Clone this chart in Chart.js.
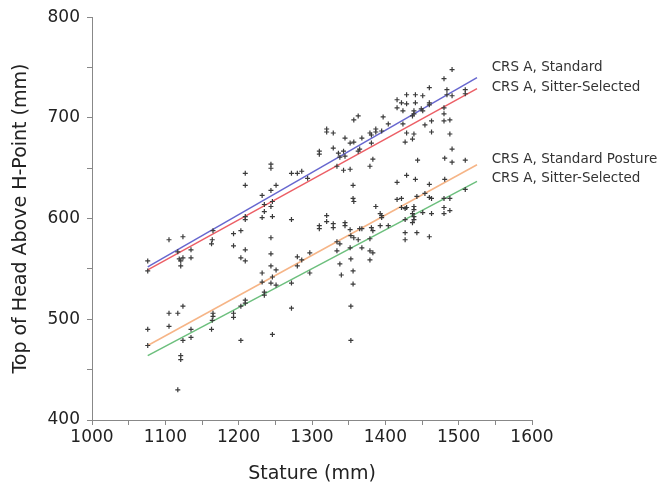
<!DOCTYPE html>
<html>
<head>
<meta charset="utf-8">
<script src="https://cdn.jsdelivr.net/npm/chart.js@4.4.1/dist/chart.umd.min.js"></script>
<style>
  html, body { margin: 0; padding: 0; background: #fff; }
</style>
</head>
<body>
<canvas id="chart" width="666" height="487"></canvas>
<script>
// Estatura (mm) y altura de la cabeza sobre el punto H (mm)
const stature = [
  1105, 1124, 1135, 1076, 1076, 1117, 1119, 1124, 1121, 1121, 1135, 1124, 1105, 1117, 1105, 1076,
  1135, 1135, 1124, 1076, 1121, 1121, 1117,
  1244, 1244, 1209, 1272, 1280, 1286, 1294, 1310, 1310, 1209, 1251, 1244, 1232, 1246, 1235, 1244,
  1235, 1232, 1246, 1209, 1209, 1272, 1310, 1310, 1165, 1193, 1203, 1164, 1163, 1193, 1209, 1244,
  1244, 1203, 1209, 1244, 1280, 1286, 1297, 1280, 1232, 1251, 1246, 1232, 1244, 1251, 1272, 1297,
  1235, 1235, 1209, 1209, 1203, 1272, 1165, 1165, 1164, 1193, 1193, 1163, 1203, 1246,
  1416, 1416, 1363, 1357, 1397, 1320, 1320, 1329, 1404, 1387, 1387, 1379, 1381, 1395, 1345, 1368,
  1352, 1357, 1381, 1329, 1343, 1365, 1363, 1336, 1338, 1345, 1383, 1334, 1343, 1352, 1379, 1356,
  1416, 1356, 1357, 1416, 1387, 1393, 1395, 1395, 1320, 1320, 1329, 1329, 1345, 1345, 1352, 1365,
  1381, 1404, 1368, 1383, 1393, 1353, 1357, 1363, 1379, 1334, 1338, 1352, 1334, 1368, 1379, 1383,
  1353, 1379, 1338, 1356, 1340, 1356, 1353, 1353,
  1491, 1480, 1460, 1441, 1429, 1451, 1484, 1484, 1491, 1509, 1509, 1422, 1429, 1441, 1460, 1460,
  1449, 1451, 1439, 1439, 1437, 1424, 1480, 1480, 1463, 1454, 1480, 1488, 1424, 1463, 1429, 1439,
  1488, 1437, 1427, 1491, 1444, 1481, 1491, 1509, 1429, 1441, 1460, 1481, 1454, 1443, 1460, 1463,
  1480, 1488, 1509, 1422, 1422, 1427, 1429, 1439, 1439, 1480, 1488, 1437, 1439, 1451, 1463, 1480,
  1427, 1437, 1439, 1427, 1443, 1427, 1460
];
const headHeight = [
  579, 582, 569, 558, 548, 567, 560, 561, 558, 553, 561, 513, 506, 506, 493, 490,
  490, 482, 479, 474, 464, 460, 430,
  654, 650, 645, 645, 645, 647, 640, 667, 664, 633, 633, 628, 623, 617, 614, 612,
  607, 601, 602, 602, 599, 599, 593, 590, 588, 585, 588, 579, 575, 573, 569, 581,
  565, 561, 558, 553, 562, 559, 566, 553, 546, 549, 542, 537, 536, 534, 536, 546,
  527, 524, 519, 516, 513, 511, 506, 503, 499, 506, 502, 490, 479, 485,
  718, 710, 702, 698, 701, 689, 686, 685, 694, 689, 686, 685, 683, 687, 680, 680,
  675, 676, 675, 670, 667, 669, 667, 665, 661, 662, 659, 652, 648, 649, 652, 633,
  636, 620, 617, 619, 612, 605, 603, 601, 603, 597, 595, 591, 596, 593, 589, 590,
  591, 593, 590, 588, 593, 583, 581, 579, 580, 577, 575, 571, 568, 571, 568, 566,
  560, 559, 555, 548, 544, 535, 513, 479,
  748, 739, 730, 723, 723, 722, 728, 723, 722, 728, 724, 715, 714, 715, 715, 713,
  709, 707, 707, 704, 702, 707, 710, 704, 697, 693, 697, 698, 694, 686, 685, 684,
  684, 679, 676, 669, 658, 660, 656, 658, 643, 639, 634, 639, 625, 622, 621, 620,
  620, 620, 629, 620, 611, 610, 611, 612, 609, 611, 608, 605, 602, 606, 605, 605,
  599, 596, 599, 586, 586, 579, 582
];

// Rectas de regresión (extremos)
const fitStature = [1076, 1525];
const fitStandard = [552, 740];
const fitSitter = [549, 729];
const fitStandardPosture = [474, 653.5];
const fitSitterLow = [464, 637];

const fitNames = ['CRS A, Standard', 'CRS A, Sitter-Selected', 'CRS A, Standard Posture', 'CRS A, Sitter-Selected'];
const fitColors = ['#6767cf', '#ec5f66', '#f6b587', '#6cbf7d'];
const labelStature = 1545;
const labelHead = [750, 730, 659, 640];

const xTicks = [1000, 1100, 1200, 1300, 1400, 1500, 1600];
const yTicks = [400, 500, 600, 700, 800];

const FONT = '"DejaVu Sans", sans-serif';

function fitLine(ys, color) {
  return {
    type: 'line',
    data: fitStature.map((x, i) => ({ x: x, y: ys[i] })),
    borderColor: color,
    borderWidth: 1.5,
    pointRadius: 0,
    fill: false
  };
}

const lineLabels = {
  id: 'lineLabels',
  afterDraw(chart) {
    const { ctx, scales: { x, y } } = chart;
    ctx.save();
    ctx.font = '13.5px ' + FONT;
    ctx.fillStyle = '#333';
    ctx.textBaseline = 'middle';
    fitNames.forEach((name, i) => {
      ctx.fillText(name, x.getPixelForValue(labelStature), y.getPixelForValue(labelHead[i]));
    });
    ctx.restore();
  }
};

new Chart(document.getElementById('chart'), {
  type: 'scatter',
  data: {
    datasets: [
      {
        data: stature.map((s, i) => ({ x: s, y: headHeight[i] })),
        pointStyle: 'cross',
        pointRadius: 2.5,
        borderColor: '#3a3a3a',
        borderWidth: 1.2
      },
      fitLine(fitStandard, fitColors[0]),
      fitLine(fitSitter, fitColors[1]),
      fitLine(fitStandardPosture, fitColors[2]),
      fitLine(fitSitterLow, fitColors[3])
    ]
  },
  options: {
    responsive: false,
    animation: false,
    layout: { padding: { left: 0, right: 134, top: 16, bottom: 0 } },
    plugins: { legend: { display: false }, tooltip: { enabled: false } },
    scales: {
      x: {
        type: 'linear',
        min: 1000,
        max: 1600,
        afterFit(scale) { scale.height = 67; },
        border: { color: '#888', width: 1 },
        grid: { drawOnChartArea: false, tickLength: 5, color: '#888' },
        ticks: {
          stepSize: 50,
          autoSkip: false,
          maxRotation: 0,
          padding: 2,
          color: '#222',
          font: { family: FONT, size: 17 },
          callback: v => xTicks.includes(v) ? v : ''
        },
        title: {
          display: true,
          text: 'Stature (mm)',
          color: '#222',
          font: { family: FONT, size: 19 },
          padding: { top: 0, bottom: 2 }
        }
      },
      y: {
        min: 400,
        max: 800,
        afterFit(scale) { scale.width = 92; },
        border: { color: '#888', width: 1 },
        grid: { drawOnChartArea: false, tickLength: 5, color: '#888' },
        ticks: {
          stepSize: 50,
          autoSkip: false,
          padding: 7,
          color: '#222',
          font: { family: FONT, size: 17 },
          callback: v => yTicks.includes(v) ? v : ''
        },
        title: {
          display: true,
          text: 'Top of Head Above H-Point (mm)',
          color: '#222',
          font: { family: FONT, size: 19 },
          padding: { top: 10, bottom: 0 }
        }
      }
    }
  },
  plugins: [lineLabels]
});
</script>
</body>
</html>
